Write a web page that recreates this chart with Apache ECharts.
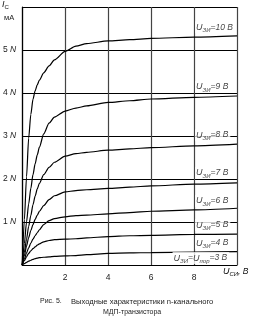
<!DOCTYPE html>
<html><head><meta charset="utf-8">
<script src="https://cdn.jsdelivr.net/npm/echarts@6/dist/echarts.min.js"></script>
<style>html,body{margin:0;padding:0;background:#fff}#c{width:256px;height:317px}</style>
</head><body><div id="c"></div>
<script>
// Drain-source voltage samples (U_СИ, В)
const vds = [0, 0.1, 0.2, 0.3, 0.4, 0.5, 0.6, 0.7, 0.8, 1.0, 1.25, 1.5, 2, 2.5, 3, 4, 5, 6, 8, 10];
// Drain current (units of N мА) for each gate voltage
const i10 = [0, 1.05, 2.05, 2.95, 3.5, 3.85, 4.05, 4.19, 4.3, 4.47, 4.63, 4.77, 4.97, 5.09, 5.15, 5.21, 5.24, 5.27, 5.3, 5.33];
const i9  = [0, 0.5, 1.0, 1.42, 1.78, 2.1, 2.35, 2.56, 2.74, 3.05, 3.3, 3.44, 3.58, 3.65, 3.7, 3.78, 3.82, 3.86, 3.9, 3.93];
const i8  = [0, 0.3, 0.6, 0.9, 1.15, 1.4, 1.6, 1.77, 1.9, 2.1, 2.27, 2.39, 2.53, 2.59, 2.62, 2.67, 2.7, 2.73, 2.77, 2.81];
const i7  = [0, 0.22, 0.44, 0.64, 0.8, 0.94, 1.06, 1.16, 1.25, 1.38, 1.52, 1.61, 1.7, 1.73, 1.75, 1.78, 1.81, 1.84, 1.88, 1.91];
const i6  = [0, 0.14, 0.28, 0.4, 0.51, 0.6, 0.68, 0.75, 0.82, 0.94, 1.03, 1.08, 1.12, 1.15, 1.16, 1.19, 1.22, 1.25, 1.28, 1.32];
const i5  = [0, 0.1, 0.19, 0.27, 0.33, 0.38, 0.42, 0.46, 0.49, 0.54, 0.57, 0.59, 0.6, 0.61, 0.63, 0.66, 0.68, 0.69, 0.71, 0.72];
const i4  = [0, 0.03, 0.06, 0.09, 0.11, 0.13, 0.15, 0.16, 0.17, 0.18, 0.19, 0.2, 0.21, 0.22, 0.24, 0.27, 0.28, 0.29, 0.3, 0.31];
const curves = [i10, i9, i8, i7, i6, i5, i4];
// Gate voltages and their curve labels
const gateV = ['10', '9', '8', '7', '6', '5', '4', '3'];
const labelAtVds = [8.05, 8.05, 8.05, 8.05, 8.05, 8.05, 8.05, 7.0];
const labelAtI   = [5.53, 4.14, 3.02, 2.14, 1.49, 0.93, 0.51, 0.16];
// Axis ticks
const xTicks = [2, 4, 6, 8];
const yTicks = [1, 2, 3, 4, 5];

const FONT = '"Liberation Sans", Arial, sans-serif';
const chart = echarts.init(document.getElementById('c'), null, {renderer: 'canvas'});

const lineSeries = curves.map(arr => ({
  type: 'line',
  data: vds.map((v, k) => [v, arr[k]]),
  showSymbol: false,
  smooth: 0.25,
  smoothMonotone: 'x',
  lineStyle: {color: '#000', width: 1.2},
  silent: true,
  z: 2
}));

const labelSeries = {
  type: 'scatter',
  symbolSize: 0,
  z: 10,
  silent: true,
  data: gateV.map((g, k) => ({value: [labelAtVds[k], labelAtI[k]], name: g})),
  label: {
    show: true,
    position: 'right',
    distance: 0,
    backgroundColor: '#fff',
    padding: [0, 2, 0, 1],
    formatter: p => p.name === '3'
      ? '{u|U}{s|ЗИ}{t|=}{u|U}{s|пор}{t|=3 В}'
      : '{u|U}{s|ЗИ}{t|=' + p.name + ' В}',
    rich: {
      u: {fontFamily: FONT, fontStyle: 'italic', fontSize: 9, color: '#111', lineHeight: 12, verticalAlign: 'middle'},
      s: {fontFamily: FONT, fontStyle: 'italic', fontSize: 6, color: '#111', lineHeight: 6, verticalAlign: 'bottom'},
      t: {fontFamily: FONT, fontStyle: 'italic', fontSize: 8.5, color: '#111', lineHeight: 12, verticalAlign: 'middle'}
    }
  }
};

chart.setOption({
  animation: false,
  backgroundColor: '#fff',
  grid: {left: 21, right: 19, top: 7, bottom: 52, containLabel: false},
  xAxis: {
    type: 'value', min: 0, max: 10, interval: 2,
    axisLine: {show: true, lineStyle: {color: '#000', width: 1.2}},
    axisTick: {show: false},
    splitLine: {show: true, lineStyle: {color: '#444', width: 1.2}},
    axisLabel: {
      margin: 8, fontFamily: FONT, fontSize: 8.5, color: '#222',
      formatter: v => xTicks.includes(v) ? String(v) : ''
    }
  },
  yAxis: {
    type: 'value', min: 0, max: 6, interval: 1,
    axisLine: {show: true, lineStyle: {color: '#000', width: 1.2}},
    axisTick: {show: false},
    splitLine: {show: true, lineStyle: {color: '#000', width: 1}},
    axisLabel: {
      margin: 6, fontFamily: FONT, fontSize: 8.5, color: '#222',
      formatter: v => yTicks.includes(v) ? '{a|' + v + '} {n|N}' : '',
      rich: {
        a: {fontFamily: FONT, fontSize: 8.5, color: '#222'},
        n: {fontFamily: FONT, fontSize: 8.5, fontStyle: 'italic', color: '#222'}
      }
    }
  },
  graphic: [
    {type: 'text', left: 2, top: 0, style: {
      text: '{i|I}{c|С}', rich: {
        i: {fontFamily: FONT, fontStyle: 'italic', fontSize: 9, fill: '#111', lineHeight: 11, verticalAlign: 'middle'},
        c: {fontFamily: FONT, fontSize: 6, fill: '#111', lineHeight: 5, verticalAlign: 'bottom'}
      }}},
    {type: 'text', left: 4, top: 14, style: {text: 'мА', fontFamily: FONT, fontSize: 7.5, fill: '#222'}},
    {type: 'text', left: 223, top: 267, style: {
      text: '{u|U}{s|СИ}{t|, В}', rich: {
        u: {fontFamily: FONT, fontStyle: 'italic', fontSize: 9, fill: '#111', lineHeight: 12, verticalAlign: 'middle'},
        s: {fontFamily: FONT, fontStyle: 'italic', fontSize: 6, fill: '#111', lineHeight: 6, verticalAlign: 'bottom'},
        t: {fontFamily: FONT, fontStyle: 'italic', fontSize: 8.5, fill: '#111', lineHeight: 12, verticalAlign: 'middle'}
      }}},
    {type: 'text', left: 40, top: 298, style: {text: 'Рис. 5.', fontFamily: FONT, fontSize: 7, fill: '#222'}},
    {type: 'text', left: 71, top: 298, style: {text: 'Выходные характеристики n-канального', fontFamily: FONT, fontSize: 7.6, fill: '#222'}},
    {type: 'text', left: 103, top: 309, style: {text: 'МДП-транзистора', fontFamily: FONT, fontSize: 7, fill: '#222'}}
  ],
  series: lineSeries.concat([labelSeries])
});
</script></body></html>
